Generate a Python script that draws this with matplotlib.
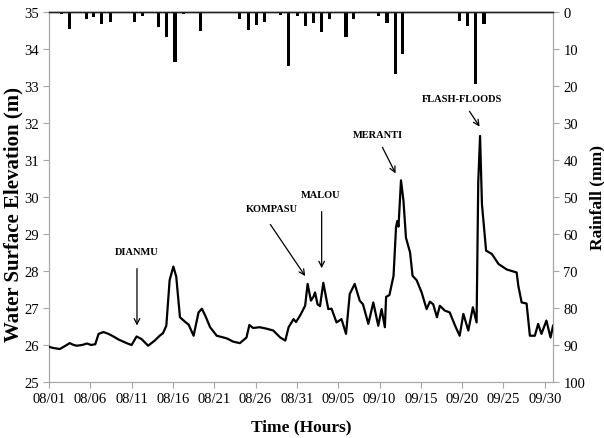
import matplotlib
matplotlib.use('Agg')
import matplotlib.pyplot as plt

# water level, days since 08/01 00:00
wl_day = [0.0, 0.5, 1.3, 2.0, 2.5, 3.0, 3.35, 4.0, 4.6, 5.1, 5.6, 6.0, 6.6, 7.2, 7.8, 8.4,
          9.0, 9.5, 10.0, 10.6, 11.2, 12.0, 12.8, 13.4, 13.8, 14.2, 14.6, 15.05, 15.4, 15.85,
          16.5, 16.9, 17.5, 18.1, 18.5, 18.9, 19.5, 20.3, 21.5, 22.3, 23.1, 23.9, 24.25, 24.7,
          25.5, 26.35, 27.15, 28.0, 28.6, 29.0, 29.6, 29.9, 30.4, 31.0, 31.3, 31.7, 32.0, 32.2,
          32.5, 32.8, 33.2, 33.8, 34.2, 34.8, 35.4, 35.95, 36.4, 37.0, 37.6, 38.0, 38.65, 39.25,
          39.85, 40.25, 40.65, 40.8, 41.2, 41.7, 42.0, 42.15, 42.3, 42.6, 42.9, 43.2, 43.7, 44.0,
          44.5, 45.1, 45.7, 46.1, 46.5, 46.95, 47.3, 47.9, 48.5, 49.15, 49.7, 50.15, 50.75, 51.3,
          51.75, 51.95, 52.17, 52.4, 52.9, 53.6, 54.4, 55.4, 56.6, 56.8, 57.2, 57.8, 58.2, 58.8,
          59.2, 59.6, 60.2, 60.7, 61.0]
wl_level = [25.95, 25.92, 25.89, 25.98, 26.05, 26.0, 25.98, 26.0, 26.04, 26.0, 26.02, 26.3, 26.35,
            26.3, 26.23, 26.15, 26.09, 26.04, 26.0, 26.23, 26.16, 25.98, 26.12, 26.25, 26.32, 26.52,
            27.75, 28.12, 27.85, 26.75, 26.62, 26.55, 26.25, 26.88, 26.98, 26.8, 26.48, 26.25,
            26.18, 26.09, 26.05, 26.2, 26.54, 26.46, 26.48, 26.44, 26.39, 26.2, 26.12, 26.48, 26.7,
            26.62, 26.8, 27.06, 27.65, 27.2, 27.3, 27.42, 27.1, 27.05, 27.68, 26.97, 26.98, 26.61,
            26.7, 26.3, 27.38, 27.65, 27.2, 27.1, 26.57, 27.15, 26.52, 26.97, 26.48, 27.3, 27.35,
            27.87, 29.18, 29.35, 29.2, 30.45, 29.9, 28.9, 28.5, 27.87, 27.75, 27.42, 26.97, 27.17,
            27.1, 26.75, 27.06, 26.93, 26.88, 26.52, 26.25, 26.84, 26.39, 27.02, 26.61, 30.4,
            31.65, 29.8, 28.55, 28.46, 28.19, 28.04, 27.96, 27.6, 27.15, 27.12, 26.25, 26.25,
            26.57, 26.3, 26.66, 26.2, 26.52]

# daily rainfall
rain_day = [1.5, 2.46, 4.5, 5.4, 6.4, 7.4, 8.4, 10.4, 11.3, 12.2, 13.3, 14.2, 15.25, 16.25,
            18.3, 19.3, 20.2, 23.1, 24.1, 25.1, 26.1, 28.0, 29.0, 30.05, 31.05, 32.05, 33.0,
            34.0, 35.95, 36.9, 39.9, 40.9, 41.9, 42.8, 43.8, 45.8, 49.7, 50.7, 51.65, 52.65, 58.5]
rain_mm = [0.5, 4.7, 2.0, 1.4, 3.2, 2.6, 0.3, 2.8, 1.1, 0.3, 4.1, 6.8, 13.4, 0.5,
           5.2, 0.3, 0.3, 1.8, 4.9, 3.6, 2.6, 0.8, 14.5, 1.1, 3.9, 2.9, 5.3,
           1.9, 6.8, 1.9, 1.2, 3.0, 16.8, 11.4, 0.3, 0.3, 2.5, 3.9, 19.5, 3.2, 0.3]

tick_days = [0, 5, 10, 15, 20, 25, 30, 35, 40, 45, 50, 55, 60]
tick_labels = ['08/01', '08/06', '08/11', '08/16', '08/21', '08/26', '08/31',
               '09/05', '09/10', '09/15', '09/20', '09/25', '09/30']

# events: name, text position, arrow start, arrow tip
events = [('DIANMU', 10.65, 28.54, 10.65, 28.14, 10.65, 26.45),
          ('KOMPASU', 27.0, 29.68, 26.6, 29.32, 31.2, 27.8),
          ('MALOU', 32.9, 30.08, 33.0, 29.68, 33.0, 28.0),
          ('MERANTI', 39.8, 31.68, 40.2, 31.41, 42.1, 30.57),
          ('FLASH-FLOODS', 50.0, 32.65, 50.7, 32.38, 52.3, 31.84)]

plt.rcParams['font.family'] = ['Liberation Serif', 'DejaVu Serif']
grey = '#a6a6a6'

fig = plt.figure(figsize=(6.04, 4.39), dpi=100)
ax = fig.add_axes([0.0811, 0.1276, 0.8345, 0.8428])
ax2 = ax.twinx()

ax.plot(wl_day, wl_level, color='black', lw=1.6, zorder=3)
ax2.bar(rain_day, rain_mm, width=0.38, color='black', align='center')

ax.set_xlim(0, 61)
ax.set_ylim(25, 35)
ax.set_yticks(range(25, 36))
ax.set_xticks(tick_days)
ax.set_xticklabels(tick_labels)
ax2.set_ylim(100, 0)
ax2.set_yticks(range(0, 101, 10))

for a in (ax, ax2):
    for s in a.spines.values():
        s.set_color(grey)
    a.spines['top'].set_color('#222222')
    a.spines['top'].set_linewidth(1.0)
    a.tick_params(colors=grey, labelcolor='black', labelsize=10.5, length=4, width=0.8)

ax.set_ylabel('Water Surface Elevation (m)', fontsize=15, fontweight='bold')
ax.yaxis.set_label_coords(-0.05, 0.455)
ax.set_xlabel('Time (Hours)', fontsize=12.5, fontweight='bold', labelpad=9)
ax2.set_ylabel('Rainfall (mm)', fontsize=12.5, fontweight='bold', labelpad=3)

for name, tx, ty, ax0, ay0, ax1, ay1 in events:
    ax.text(tx, ty, name, ha='center', va='center', fontsize=7.5, fontweight='bold')
    ax.annotate('', xy=(ax1, ay1), xytext=(ax0, ay0),
                arrowprops=dict(arrowstyle='->', color='black', lw=0.9))

ax.set_zorder(ax2.get_zorder() + 1)
ax.patch.set_visible(False)

fig.savefig('out.png', dpi=100)
